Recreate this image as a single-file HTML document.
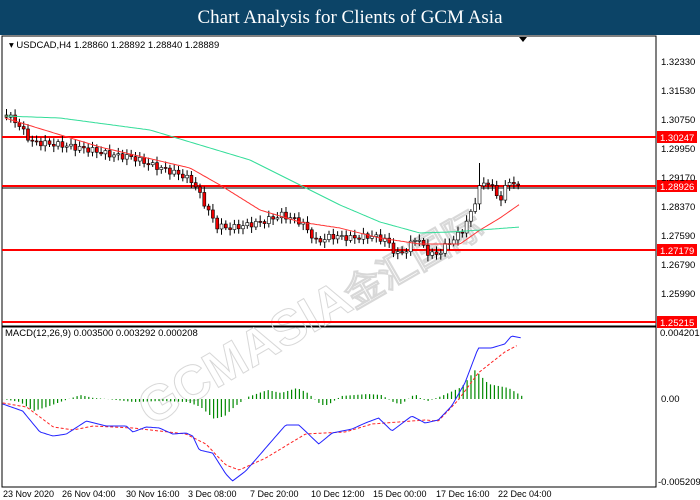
<!DOCTYPE html>
<html><head><meta charset="utf-8">
<style>
body{margin:0;width:700px;height:500px;overflow:hidden;background:#fff;font-family:"Liberation Sans",sans-serif}
#t{position:absolute;left:0;top:0;width:700px;height:35px;background:#0c4467;color:#fff;font-family:"Liberation Serif",serif;font-size:19px;text-align:center;line-height:35px}
svg{position:absolute;left:0;top:0}
</style></head><body>
<div id="t">Chart Analysis for Clients of GCM Asia</div>
<svg id="s" width="700" height="500" xmlns="http://www.w3.org/2000/svg" font-family="Liberation Sans, sans-serif" font-size="10">
<rect x="2" y="36" width="654" height="290" fill="none" stroke="#000"/>
<rect x="2" y="327" width="654" height="160" fill="none" stroke="#000"/>
<g font-size="50" font-weight="bold" fill="none" stroke="#d8d8d8" stroke-width="1" transform="rotate(-30 320 300)"><text x="110" y="325">GCMASIA</text><text x="345" y="325" font-size="38">金汇国际</text></g>
<g id="g"></g>
<g fill="#000" font-size="9.5">
<text x="9" y="48">▾ USDCAD,H4  1.28860 1.28892 1.28840 1.28889</text>
<text x="5" y="336">MACD(12,26,9) 0.003500 0.003292 0.000208</text>
<text x="661" y="65">1.32330</text><text x="661" y="94">1.31530</text><text x="661" y="123">1.30750</text>
<text x="661" y="152">1.29950</text><text x="661" y="181">1.29170</text><text x="661" y="210">1.28370</text>
<text x="661" y="239">1.27590</text><text x="661" y="268">1.26790</text><text x="661" y="297">1.25990</text>
<text x="660" y="336">0.004201</text><text x="661" y="402">0.00</text><text x="658" y="485">-0.005209</text>
</g>
<g fill="#000" font-size="9">
<text x="3" y="497">23 Nov 2020</text><text x="62" y="497">26 Nov 04:00</text><text x="126" y="497">30 Nov 16:00</text>
<text x="188" y="497">3 Dec 08:00</text><text x="250" y="497">7 Dec 20:00</text><text x="311" y="497">10 Dec 12:00</text>
<text x="373" y="497">15 Dec 00:00</text><text x="436" y="497">17 Dec 16:00</text><text x="498" y="497">22 Dec 04:00</text>
</g>
</svg>
<script>
var g=document.getElementById('g'),h='';
function L(p,x){for(var i=0;i<p.length-1;i++){if(x<=p[i+1][0]){var t=(x-p[i][0])/(p[i+1][0]-p[i][0]);return p[i][1]+t*(p[i+1][1]-p[i][1]);}}return p[p.length-1][1];}
function pl(p,c,d){var s='';for(var x=p[0][0];x<=p[p.length-1][0];x+=2)s+=x.toFixed(1)+','+L(p,x).toFixed(1)+' ';h+='<polyline points="'+s+'" fill="none" stroke="'+c+'" stroke-width="1"'+(d?' stroke-dasharray="3,2"':'')+'/>';}
[[137,'1.30247'],[186,'1.28926'],[250,'1.27179'],[322,'1.25215']].forEach(function(a){h+='<line x1="2" x2="656" y1="'+a[0]+'" y2="'+a[0]+'" stroke="#f00" stroke-width="2"/>';h+='<rect x="657" y="'+(a[0]-6)+'" width="40" height="12" fill="#f00"/><text x="660" y="'+(a[0]+4)+'" fill="#fff" font-size="9.5">'+a[1]+'</text>';});
h+='<line x1="2" x2="656" y1="188" y2="188" stroke="#000"/>';
var cp=[[5,115],[15,122],[30,142],[60,145],[90,150],[110,155],[130,157],[150,165],[180,175],[192,182],[200,198],[215,226],[230,228],[260,222],[280,215],[300,222],[315,242],[330,236],[350,238],[370,236],[385,240],[395,255],[405,250],[415,236],[425,252],[435,255],[445,245],[460,232],[470,212],[478,188],[485,180],[492,190],[500,200],[507,178],[512,185],[520,188]];
var pv=cp[0][1],k=0;
for(var x=5;x<=518;x+=4.3){k++;var c=L(cp,x)+Math.sin(k*2.3)*3;var o=pv;var hi=Math.min(o,c)-2-Math.abs(Math.sin(k*1.7))*4,lo=Math.max(o,c)+2+Math.abs(Math.cos(k*1.3))*4;if(Math.abs(x-479)<3)hi=163;
h+='<line x1="'+(x+1.5)+'" x2="'+(x+1.5)+'" y1="'+hi+'" y2="'+lo+'" stroke="#000"/>';h+='<rect x="'+x+'" y="'+Math.min(o,c)+'" width="3" height="'+Math.max(1,Math.abs(o-c))+'" fill="'+(c<o?'#fff':'#e00')+'" stroke="#000" stroke-width="0.6"/>';pv=c;}
pl([[5,118],[100,147],[190,168],[220,185],[260,210],[300,222],[340,228],[380,238],[420,244],[460,244],[480,230],[500,218],[520,204]],'#f33');
pl([[5,116],[60,118],[150,130],[250,160],[300,185],[340,205],[380,222],[420,233],[450,232],[480,230],[520,227]],'#3d9');
var hp=[[2,0],[15,-3],[25,-12],[35,-8],[45,-3],[60,4],[70,1],[80,0],[100,-3],[120,-2],[140,-3],[150,-8],[160,-20],[168,-17],[175,-8],[185,2],[200,9],[210,6],[222,11],[230,6],[240,-6],[245,-6],[255,3],[275,5],[285,4],[295,-4],[300,-5],[310,5],[315,0],[320,-2],[330,3],[345,12],[355,29],[365,15],[380,11],[390,3]];
for(var x=3;x<=522;x+=3.9){var v=L(hp,x*390/522);h+='<line x1="'+x+'" x2="'+x+'" y1="399" y2="'+(399-v)+'" stroke="#080" stroke-width="1.2"/>';}
function sc(p){return p.map(function(a){return [a[0]*522/393,a[1]];});}
pl(sc([[2,403],[20,407],[40,427],[55,430],[70,426],[100,428],[140,434],[155,444],[170,465],[180,470],[200,458],[230,434],[260,432],[280,424],[300,422],[320,420],[330,421],[345,400],[360,373],[380,352],[390,345]]),'#f22',1);
pl(sc([[2,404],[17,411],[30,432],[40,436],[50,434],[65,421],[80,426],[95,426],[100,432],[110,427],[120,428],[130,434],[140,433],[145,436],[150,450],[160,453],[170,474],[175,481],[185,471],[200,448],[215,425],[225,425],[240,444],[250,433],[265,429],[275,423],[285,418],[295,431],[310,416],[320,423],[330,420],[340,406],[350,383],[360,348],[370,348],[380,344],[385,336],[393,338]]),'#22f');
h+='<polygon points="519,37 527,37 523,42" fill="#000"/>';
g.innerHTML=h;
</script>
</body></html>
